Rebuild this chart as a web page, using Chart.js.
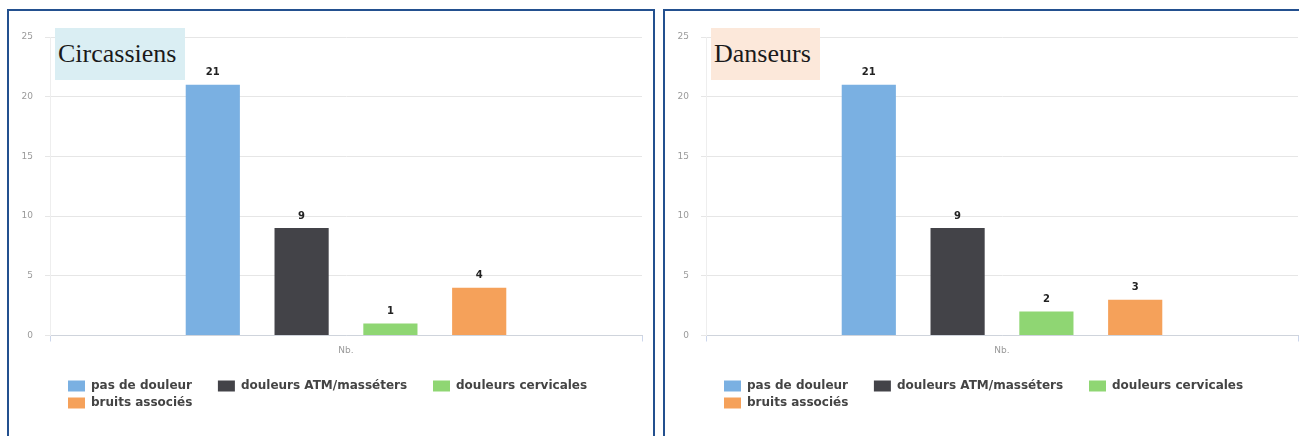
<!DOCTYPE html>
<html>
<head>
<meta charset="utf-8">
<script src="https://cdn.jsdelivr.net/npm/chart.js@4/dist/chart.umd.min.js"></script>
<style>
  html, body { margin: 0; padding: 0; background: #ffffff; overflow: hidden; width: 1299px; height: 436px; }
  .panel { position: absolute; top: 9px; width: 644px; height: 440px; border: 2px solid #23508f; background: #fff; }
  .wrap { position: absolute; left: 0; top: 0; width: 644px; height: 408px; }
  .title { position: absolute; left: 46px; top: 17px; height: 52px; line-height: 52px; padding: 0 9px 0 3px;
           font-family: "Liberation Serif", "DejaVu Serif", serif; font-size: 26px; color: #1a1a1a; z-index: 2; }
</style>
</head>
<body>
<div class="panel" style="left:7px;">
  <div class="wrap"><canvas id="c1"></canvas></div>
  <div class="title" style="background:#daeef3;">Circassiens</div>
</div>
<div class="panel" style="left:663px;">
  <div class="wrap"><canvas id="c2"></canvas></div>
  <div class="title" style="background:#fce8da;">Danseurs</div>
</div>
<script>
const categories = ['Nb.'];
const seriesNames = ['pas de douleur', 'douleurs ATM/masséters', 'douleurs cervicales', 'bruits associés'];
const seriesColors = ['#7ab0e2', '#434348', '#8fd673', '#f5a15a'];
const circassiensValues = [21, 9, 1, 4];
const danseursValues = [21, 9, 2, 3];
const yTickValues = [0, 5, 10, 15, 20, 25];

const valueLabels = {
  id: 'valueLabels',
  afterDatasetsDraw(chart) {
    const ctx = chart.ctx;
    ctx.save();
    ctx.font = 'bold 10px "DejaVu Sans", sans-serif';
    ctx.fillStyle = '#222';
    ctx.textAlign = 'center';
    ctx.textBaseline = 'middle';
    chart.data.datasets.forEach((ds, i) => {
      const meta = chart.getDatasetMeta(i);
      meta.data.forEach((el, j) => {
        ctx.fillText(String(ds.data[j]), el.x, el.y - 12);
      });
    });
    ctx.restore();
  }
};

const legendShift = {
  id: 'legendShift',
  afterLayout(chart) {
    if (chart.legend) { chart.legend.left += 54; }
  }
};

function makeChart(id, values) {
  const datasets = seriesNames.map((name, i) => ({
    label: name,
    data: [values[i]],
    backgroundColor: seriesColors[i],
    borderWidth: 0,
    categoryPercentage: 0.6,
    barPercentage: 0.61
  }));
  return new Chart(document.getElementById(id), {
    type: 'bar',
    data: { labels: categories, datasets },
    options: {
      responsive: true,
      maintainAspectRatio: false,
      animation: false,
      layout: { padding: { top: 26, right: 11, bottom: 0, left: 0 } },
      plugins: {
        tooltip: { enabled: false },
        title: { display: false },
        legend: {
          position: 'bottom',
          align: 'start',
          labels: {
            boxWidth: 17,
            boxHeight: 11,
            padding: 5,
            color: '#444',
            font: { family: '"DejaVu Sans", sans-serif', size: 12, weight: 'bold' },
            generateLabels(chart) {
              return chart.data.datasets.map((ds, i) => ({
                text: ds.label + '\u0020\u0020\u0020\u0020\u0020',
                fillStyle: ds.backgroundColor,
                strokeStyle: ds.backgroundColor,
                fontColor: '#444',
                lineWidth: 0,
                hidden: false,
                datasetIndex: i
              }));
            }
          }
        }
      },
      scales: {
        x: {
          offset: true,
          grid: { display: true, drawOnChartArea: false, drawTicks: true, tickLength: 6, color: '#ccd6eb' },
          border: { display: true, color: '#cfd4dc' },
          ticks: { padding: 4, color: '#9a9a9a', font: { family: '"DejaVu Sans", sans-serif', size: 9 } },
          afterFit(s) { s.height = 39.5; }
        },
        y: {
          min: 0,
          max: 25,
          afterBuildTicks(s) { s.ticks = yTickValues.map(v => ({ value: v })); },
          grid: { color: '#e6e6e6', tickLength: 5, drawTicks: true },
          border: { display: true, color: '#eeeeee' },
          ticks: { padding: 12, color: '#9a9a9a', font: { family: '"DejaVu Sans", sans-serif', size: 9 } },
          afterFit(s) { s.width = 41; }
        }
      }
    },
    plugins: [valueLabels, legendShift]
  });
}

makeChart('c1', circassiensValues);
makeChart('c2', danseursValues);
</script>
</body>
</html>
